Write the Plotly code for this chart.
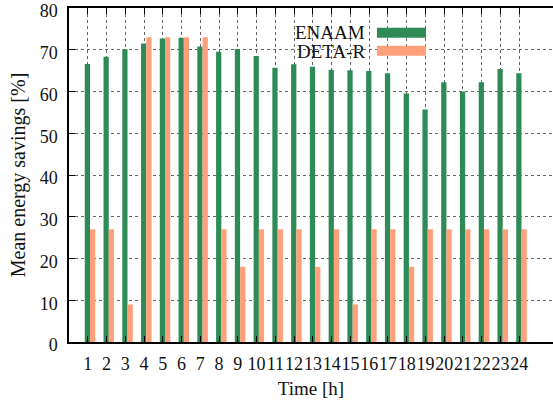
import plotly.graph_objects as go

# Hour of day
hours = list(range(1, 25))

# Mean energy savings per hour [%]
enaam = [66.6, 68.3, 70.1, 71.5, 72.7, 72.9, 70.8, 69.5, 70.2, 68.5, 65.7, 66.5,
         65.9, 65.2, 65.1, 64.9, 64.4, 59.5, 55.7, 62.2, 60.0, 62.2, 65.4, 64.4]
deta_r = [27, 27, 9, 73, 73, 73, 73, 27, 18, 27, 27, 27,
          18, 27, 9, 27, 27, 18, 27, 27, 27, 27, 27, 27]

# Y-axis ticks
y_ticks = [0, 10, 20, 30, 40, 50, 60, 70, 80]

series_names = ["ENAAM", "DETA-R"]
series_colors = ["#2e8b57", "#ffa07a"]

FONT = "Liberation Serif"
W, H = 553, 405
ML, MR, MT, MB = 69, 0, 8, 63
PW, PH = W - ML - MR, H - MT - MB


def px(x):
    return (x - ML) / PW


def py(y):
    return (H - MB - y) / PH


def f(size):
    return dict(family=FONT, size=size, color="#111")


fig = go.Figure()
fig.add_trace(go.Bar(x=hours, y=enaam, name=series_names[0], width=0.28, offset=-0.16,
                     marker=dict(color=series_colors[0], line=dict(width=0))))
fig.add_trace(go.Bar(x=hours, y=deta_r, name=series_names[1], width=0.28, offset=0.12,
                     marker=dict(color=series_colors[1], line=dict(width=0))))

grid = dict(showgrid=True, gridcolor="rgba(0,0,0,0.6)", griddash="dot", gridwidth=1)

fig.update_layout(
    template="none",
    width=W, height=H,
    margin=dict(l=ML, r=MR, t=MT, b=MB),
    paper_bgcolor="white", plot_bgcolor="white",
    showlegend=False,
    barmode="overlay",
    font=f(18),
    xaxis=dict(
        range=[0, 25.8], tickmode="array", tickvals=hours, ticktext=[str(h) for h in hours],
        tickangle=0, ticks="inside", ticklen=6, tickcolor="black",
        showline=True, linecolor="black", linewidth=1.5, mirror="ticks",
        zeroline=False, title=dict(text="Time [h]", font=f(19), standoff=8),
        tickfont=f(18), ticklabelstandoff=5, ticklabeloverflow="allow", **grid,
    ),
    yaxis=dict(
        range=[0, 80], tickmode="array", tickvals=y_ticks,
        ticktext=[str(v) for v in y_ticks],
        ticks="inside", ticklen=6, tickcolor="black",
        showline=True, linecolor="black", linewidth=1.5, mirror=False,
        zeroline=False, title=dict(text="Mean energy savings [%]", font=f(20), standoff=9),
        tickfont=f(18), ticklabelstandoff=6, ticklabelshift=3,
        ticklabeloverflow="allow", **grid,
    ),
)

# Key: opaque box over the grid, right-aligned labels with colour samples to their right
shapes = [
    dict(type="rect", xref="paper", yref="paper", layer="between",
         x0=px(291), x1=px(431), y0=py(60), y1=py(23),
         fillcolor="white", line=dict(width=0)),
]
sample_rows = [(27.7, 37.7, 33), (45.7, 55.7, 51.5)]
for name, color, (top, bot, mid) in zip(series_names, series_colors, sample_rows):
    shapes.append(dict(type="rect", xref="paper", yref="paper", layer="above",
                       x0=px(377), x1=px(426), y0=py(bot), y1=py(top),
                       fillcolor=color, line=dict(width=0)))
    fig.add_annotation(xref="paper", yref="paper", x=px(367), y=py(mid),
                       xanchor="right", yanchor="middle", showarrow=False,
                       text=name, font=f(19))
fig.update_layout(shapes=shapes)

fig.write_html("out.html")
